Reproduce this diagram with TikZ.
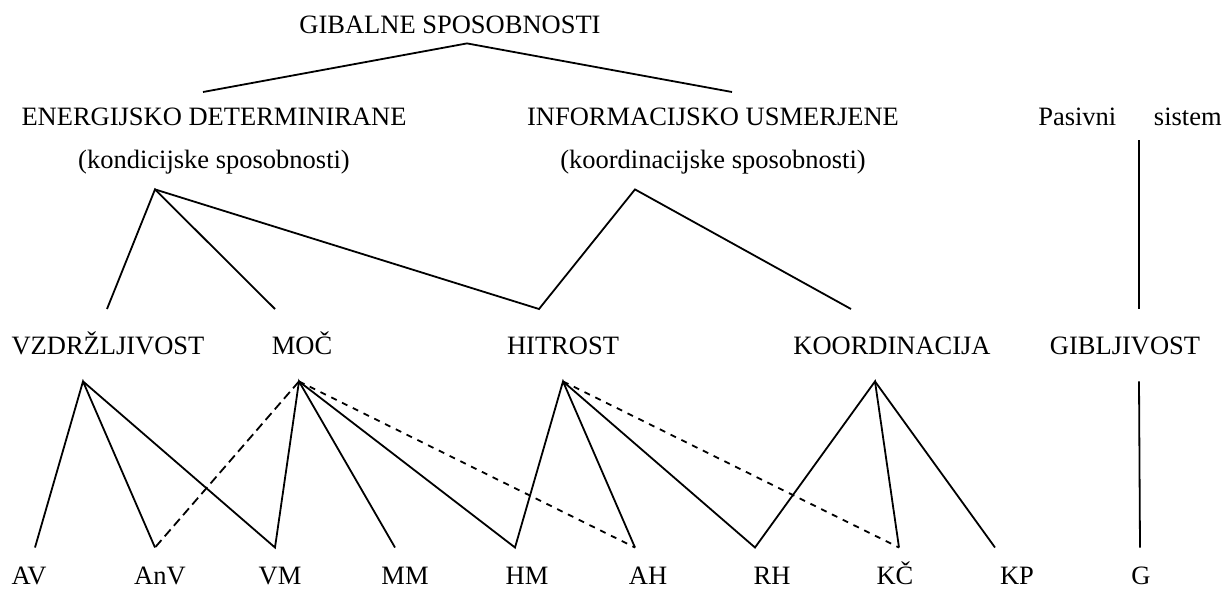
\documentclass[tikz,border=0pt]{standalone}
\usepackage{fontspec}
\setmainfont{Liberation Serif}

\tikzset{
  lbl/.style={inner xsep=0pt, text height=8.8pt, text depth=0pt, anchor=base},
  naslov/.style={lbl, inner ysep=5pt},
  skupina/.style={lbl, inner ysep=7.5pt},
  opis/.style={lbl, inner ysep=10.5pt},
  sposobnost/.style={lbl, inner ysep=13.5pt},
  oznaka/.style={lbl, inner ysep=9.25pt},
  povezava/.style={line width=0.9pt},
  dolgacrta/.style={povezava, dash pattern=on 4.5pt off 2.5pt},
  kratkacrta/.style={povezava, dash pattern=on 3pt off 3pt}
}

\begin{document}
\begin{tikzpicture}[x=0.5pt, y=-0.5pt, font=\fontsize{13.25}{15}\selectfont]
        \useasboundingbox (0,0) rectangle (1232,590);

        % vrh
        \node[naslov] (gib) at (450,33) {GIBALNE SPOSOBNOSTI};
        \node[skupina] (ene) at (214,125) {ENERGIJSKO DETERMINIRANE};
        \node[skupina] (inf) at (713,125) {INFORMACIJSKO USMERJENE};
        \node[skupina] (pas) at (1130,125) {Pasivni\hspace{15.5pt} sistem};
        \node[opis] (kon) at (214,168) {(kondicijske sposobnosti)};
        \node[opis] (koo) at (713,168) {(koordinacijske sposobnosti)};

        % sposobnosti
        \node[sposobnost] (vzd) at (108,354) {VZDRŽLJIVOST};
        \node[sposobnost] (moc) at (302,354) {MOČ};
        \node[sposobnost] (hit) at (563,354) {HITROST};
        \node[sposobnost] (kor) at (892,354) {KOORDINACIJA};
        \node[sposobnost] (gbl) at (1125,354) {GIBLJIVOST};

        % oznake
        \node[oznaka] (av) at (29,584) {AV};
        \node[oznaka] (anv) at (160,584) {AnV};
        \node[oznaka] (vm) at (280,584) {VM};
        \node[oznaka] (mm) at (405,584) {MM};
        \node[oznaka] (hm) at (527,584) {HM};
        \node[oznaka] (ah) at (648,584) {AH};
        \node[oznaka] (rh) at (772,584) {RH};
        \node[oznaka] (kc) at (895,584) {KČ};
        \node[oznaka] (kp) at (1017,584) {KP};
        \node[oznaka] (g) at (1141,584) {G};

        % zgornje povezave
        \draw[povezava] ([xshift=-5.5pt]ene.north) -- ([xshift=8.5pt]gib.south) -- ([xshift=9.5pt]inf.north);
        \draw[povezava] ([xshift=-0.5pt]vzd.north) -- ([xshift=-29.5pt]kon.south) -- ([xshift=-13.5pt]moc.north);
        \draw[povezava] ([xshift=-29.5pt]kon.south) -- ([xshift=-12pt]hit.north) -- ([xshift=-39pt]koo.south) -- ([xshift=-20.5pt]kor.north);
        \draw[povezava] ([xshift=4.5pt]pas.south) -- ([xshift=7pt]gbl.north);

        % spodnje povezave
        \draw[povezava] ([xshift=3pt]av.north) -- ([xshift=-12.5pt]vzd.south) -- ([xshift=-2.5pt]anv.north);
        \draw[povezava] ([xshift=-12.5pt]vzd.south) -- ([xshift=-2.5pt]vm.north) -- ([xshift=-1.5pt]moc.south) -- ([xshift=-5pt]mm.north);
        \draw[povezava] ([xshift=-1.5pt]moc.south) -- ([xshift=-6pt]hm.north) -- (hit.south) -- ([xshift=-6.5pt]ah.north);
        \draw[povezava] (hit.south) -- ([xshift=-8.5pt]rh.north) -- ([xshift=-8.5pt]kor.south) -- ([xshift=2pt]kc.north);
        \draw[povezava] ([xshift=-8.5pt]kor.south) -- ([xshift=-11pt]kp.north);
        \draw[povezava] ([xshift=7pt]gbl.south) -- ([xshift=-0.5pt]g.north);
        \draw[dolgacrta] ([xshift=-1.5pt]moc.south) -- ([xshift=-2.5pt]anv.north);
        \draw[kratkacrta] ([xshift=-1.5pt]moc.south) -- ([xshift=-6.5pt]ah.north);
        \draw[kratkacrta] (hit.south) -- ([xshift=2pt]kc.north);

\end{tikzpicture}
\end{document}
